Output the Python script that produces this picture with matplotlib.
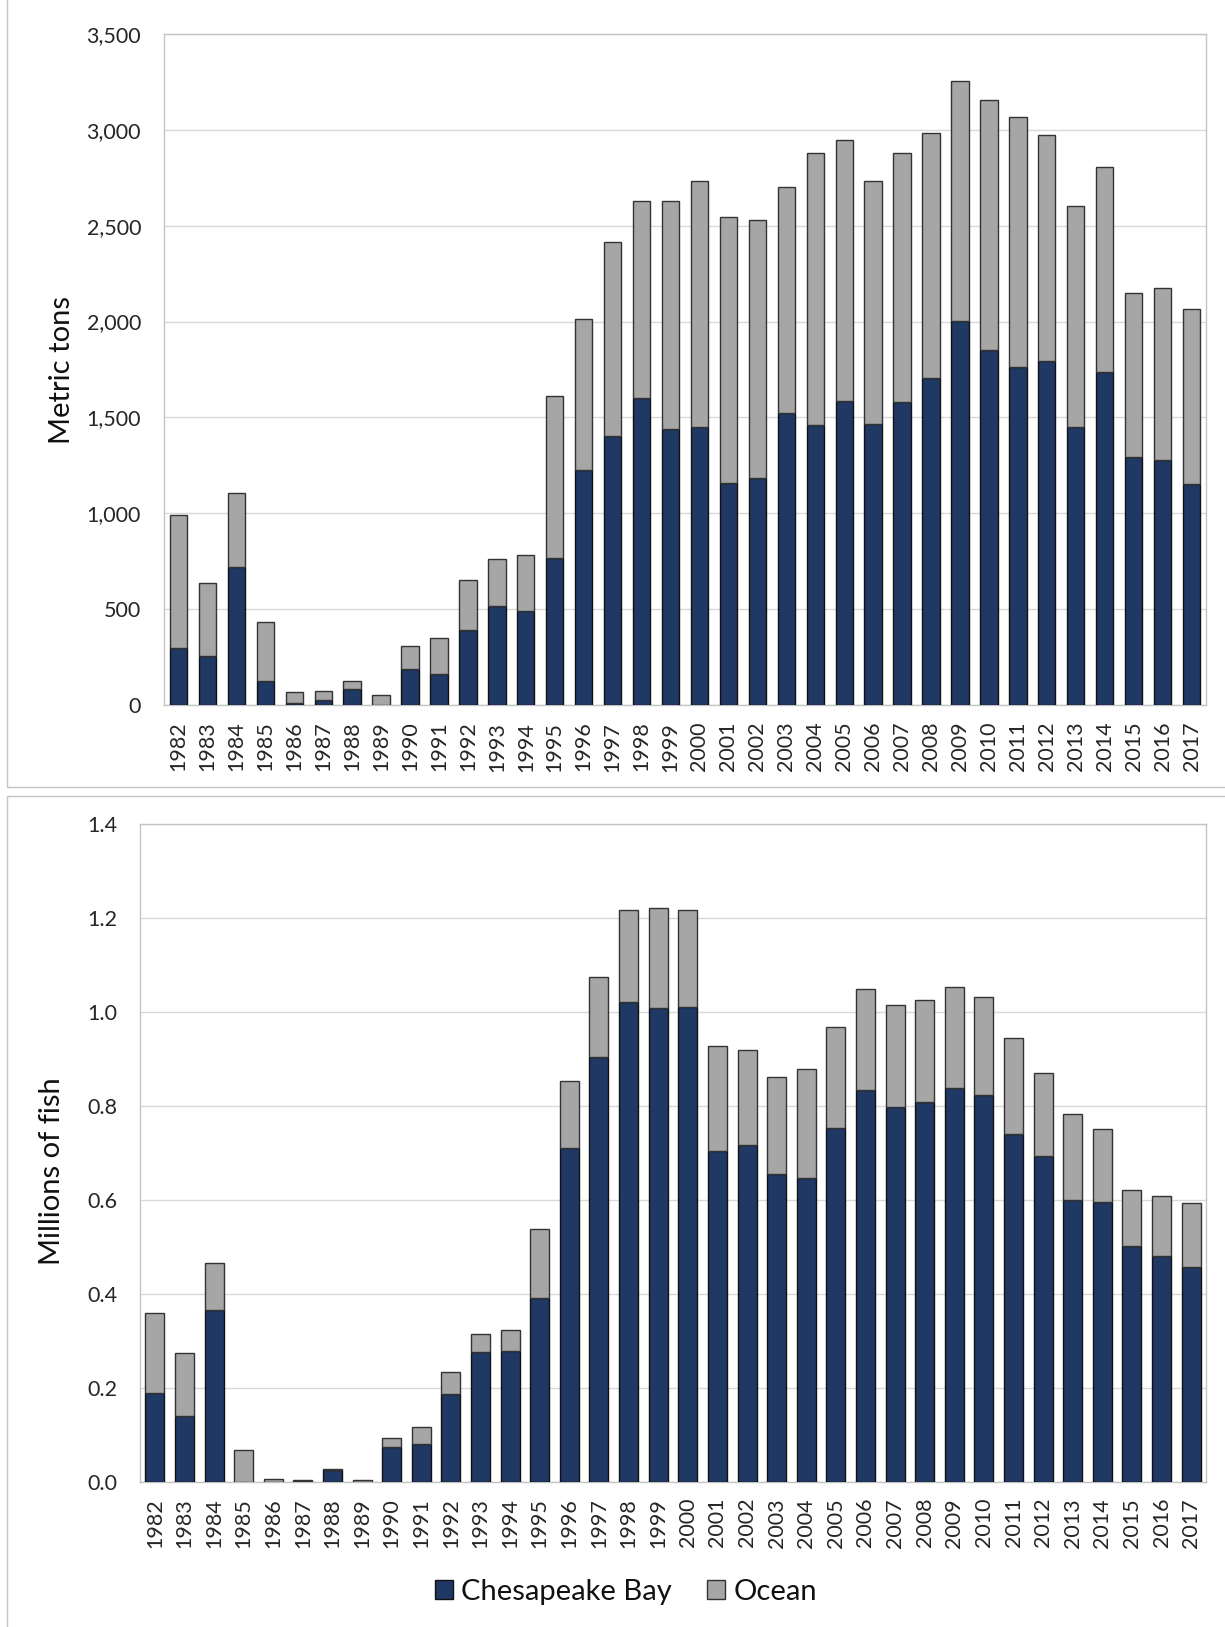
import matplotlib
matplotlib.use("Agg")
import matplotlib.pyplot as plt
from matplotlib.patches import Rectangle, Patch
from matplotlib.ticker import FuncFormatter
import numpy as np

plt.rcParams['font.family'] = ['Lato', 'DejaVu Sans']

years = [str(y) for y in range(1982, 2018)]

# Metric tons (top panel)
tons_total = [991, 637, 1106, 431, 66, 75, 127, 52, 309, 349, 651, 759, 780, 1613,
              2014, 2416, 2630, 2630, 2731, 2543, 2529, 2703, 2877, 2945, 2731, 2877,
              2983, 3255, 3154, 3065, 2971, 2602, 2804, 2148, 2176, 2068]
tons_bay = [295, 255, 719, 127, 12, 26, 82, 0, 190, 162, 389, 518, 490, 766,
            1225, 1401, 1600, 1440, 1448, 1159, 1185, 1521, 1459, 1587, 1466, 1579,
            1708, 2002, 1854, 1762, 1795, 1448, 1735, 1292, 1279, 1152]
tons_ocean = [t - b for t, b in zip(tons_total, tons_bay)]

# Millions of fish (bottom panel)
fish_total = [0.360, 0.274, 0.467, 0.069, 0.006, 0.004, 0.028, 0.004, 0.094, 0.116,
              0.233, 0.315, 0.323, 0.538, 0.854, 1.074, 1.216, 1.222, 1.216, 0.928,
              0.919, 0.862, 0.878, 0.969, 1.048, 1.015, 1.026, 1.053, 1.031, 0.944,
              0.870, 0.783, 0.751, 0.622, 0.609, 0.593]
fish_bay = [0.189, 0.140, 0.366, 0.0, 0.0, 0.002, 0.026, 0.0, 0.075, 0.080,
            0.187, 0.277, 0.279, 0.391, 0.710, 0.904, 1.021, 1.008, 1.010, 0.704,
            0.717, 0.655, 0.647, 0.753, 0.833, 0.797, 0.808, 0.838, 0.823, 0.740,
            0.694, 0.600, 0.595, 0.502, 0.481, 0.458]
fish_ocean = [t - b for t, b in zip(fish_total, fish_bay)]

labels = ["Chesapeake Bay", "Ocean"]
BAY = "#203864"
OCEAN = "#A6A6A6"

W, H = 1225, 1627
fig = plt.figure(figsize=(W / 100, H / 100), dpi=100)

def fx(px):
    return px / W

def fy(py):
    return 1 - py / H

# outer chart-area frames
for (x0, y0, x1, y1) in [(7, -10, 1240, 786.5), (7, 796, 1240, 1650)]:
    fig.patches.append(Rectangle((fx(x0), fy(y1)), fx(x1) - fx(x0), fy(y0) - fy(y1),
                                 transform=fig.transFigure, fill=False,
                                 edgecolor="#C4C4C4", linewidth=1.0))

ax1 = fig.add_axes([fx(164), fy(705), fx(1206) - fx(164), fy(34) - fy(705)])
ax2 = fig.add_axes([fx(140), fy(1482), fx(1206) - fx(140), fy(824) - fy(1482)])

x = np.arange(len(years))

def style(ax, ylim, yticks, fmt, pad_y):
    ax.set_xlim(-0.5, len(years) - 0.5)
    ax.set_ylim(*ylim)
    ax.set_yticks(yticks)
    ax.yaxis.set_major_formatter(FuncFormatter(fmt))
    ax.set_xticks(x)
    ax.set_xticklabels(years, rotation=90)
    ax.tick_params(axis='both', length=0, labelsize=15.5, labelcolor="#262626")
    ax.tick_params(axis='y', pad=16.5)
    ax.tick_params(axis='x', pad=pad_y)
    ax.grid(axis='y', color="#D9D9D9", linewidth=1.0)
    ax.set_axisbelow(True)
    for s in ax.spines.values():
        s.set_color("#C4C4C4")
        s.set_linewidth(1.0)

w1 = 0.6
ax1.bar(x, tons_bay, width=w1, color=BAY, edgecolor="#111111", linewidth=1.0, label=labels[0], zorder=3)
ax1.bar(x, tons_ocean, width=w1, bottom=tons_bay, color=OCEAN, edgecolor="#333333", linewidth=1.0, label=labels[1], zorder=3)
style(ax1, (0, 3500), np.arange(0, 3501, 500), lambda v, p: f"{int(v):,}", 12)

w2 = 0.64
ax2.bar(x, fish_bay, width=w2, color=BAY, edgecolor="#111111", linewidth=1.0, zorder=3)
ax2.bar(x, fish_ocean, width=w2, bottom=fish_bay, color=OCEAN, edgecolor="#333333", linewidth=1.0, zorder=3)
style(ax2, (0, 1.4), np.arange(0, 1.41, 0.2), lambda v, p: f"{v:.1f}", 11.5)

fig.text(fx(62), fy(370), "Metric tons", rotation=90, ha='center', va='center',
         fontsize=21, color="#111111")
fig.text(fx(52), fy(1171), "Millions of fish", rotation=90, ha='center', va='center',
         fontsize=21, color="#111111")

handles = [Patch(facecolor=BAY, edgecolor="#111111", linewidth=1.0),
           Patch(facecolor=OCEAN, edgecolor="#333333", linewidth=1.0)]
fig.legend(handles, labels, loc='center', bbox_to_anchor=(fx(626), fy(1592)),
           ncol=2, frameon=False, fontsize=21, handlelength=0.6, handleheight=0.6,
           handletextpad=0.3, columnspacing=1.2, labelcolor="#111111")

fig.savefig("out.png", dpi=100, facecolor="white")
